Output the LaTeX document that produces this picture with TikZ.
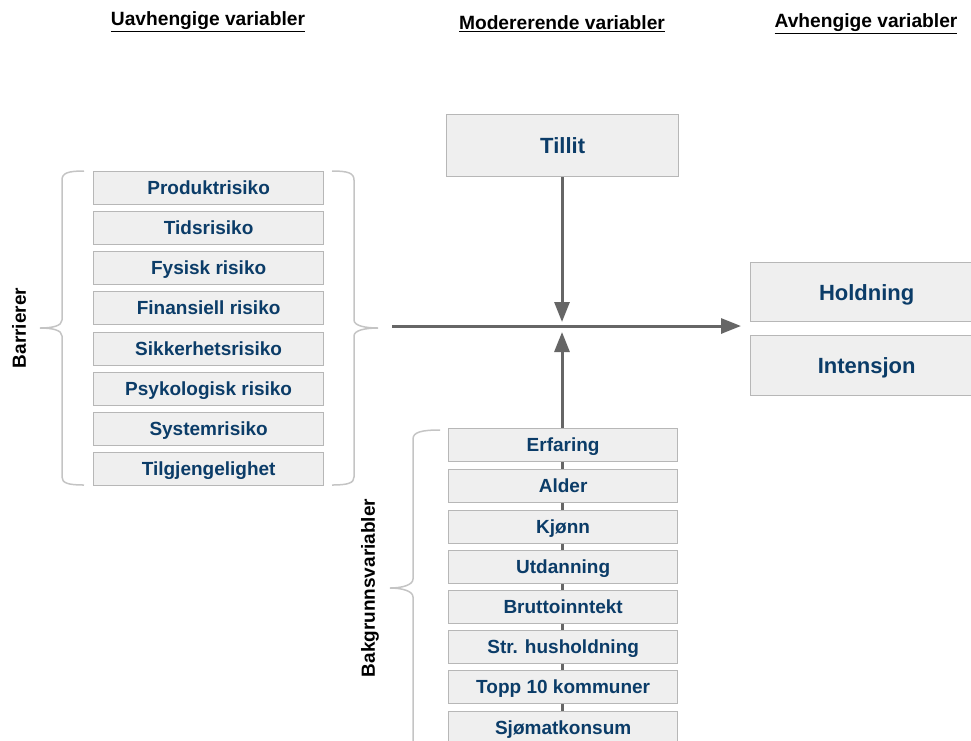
\documentclass[tikz,border=0pt]{standalone}
\usepackage{fontspec}
\setmainfont{Liberation Sans}
\usetikzlibrary{arrows.meta}
\definecolor{boxfill}{HTML}{EFEFEF}
\definecolor{boxline}{HTML}{B7B7B7}
\definecolor{txtblue}{HTML}{0B3C68}
\definecolor{arrowgray}{HTML}{666666}
\definecolor{bracegray}{HTML}{C4C4C4}
\tikzset{
  varbox/.style={draw=boxline, line width=1.3pt, fill=boxfill, minimum width=230pt, minimum height=33pt, inner sep=0pt, text=txtblue, font=\fontsize{19}{21}\selectfont\bfseries, text height=13.6pt, text depth=0pt, anchor=north west},
  bigbox/.style={varbox, font=\fontsize{22}{24}\selectfont\bfseries, text height=15.8pt},
  header/.style={font=\fontsize{19.2}{21}\selectfont\bfseries, inner sep=0pt},
  sidelabel/.style={font=\fontsize{19}{21}\selectfont\bfseries, rotate=90, inner sep=0pt},
  flow/.style={draw=arrowgray, line width=3pt, -{Triangle[length=20pt,width=15pt]}},
  bracestyle/.style={draw=bracegray, line width=1.5pt}
}
\newcommand{\ulh}[1]{\underline{#1}}
\begin{document}
\begin{tikzpicture}[x=1pt,y=-1pt]
\useasboundingbox (0,0) rectangle (971,740);
% headers
\node[header] (h1) at (208,22) {\ulh{Uavhengige variabler}};
\node[header] (h2) at (562,24) {\ulh{Modererende variabler}};
\node[header] (h3) at (866,24) {\ulh{Avhengige variabler}};

% vertical arrow from bottom (behind boxes)
\coordinate (bstart) at (562,745);
\coordinate (bend) at (562,332);
\draw[flow] (bstart) -- (bend);

% left boxes
\node[varbox] (b1) at (93,171) {Produktrisiko};
\node[varbox] (b2) at (93,211) {Tidsrisiko};
\node[varbox] (b3) at (93,251) {Fysisk risiko};
\node[varbox] (b4) at (93,291) {Finansiell risiko};
\node[varbox] (b5) at (93,332) {Sikkerhetsrisiko};
\node[varbox] (b6) at (93,372) {Psykologisk risiko};
\node[varbox] (b7) at (93,412) {Systemrisiko};
\node[varbox] (b8) at (93,452) {Tilgjengelighet};

% bottom boxes
\node[varbox,minimum width=229pt] (c1) at (448,428) {Erfaring};
\node[varbox,minimum width=229pt] (c2) at (448,469) {Alder};
\node[varbox,minimum width=229pt] (c3) at (448,510) {Kjønn};
\node[varbox,minimum width=229pt] (c4) at (448,550) {Utdanning};
\node[varbox,minimum width=229pt] (c5) at (448,590) {Bruttoinntekt};
\node[varbox,minimum width=229pt] (c6) at (448,630) {Str. husholdning};
\node[varbox,minimum width=229pt] (c7) at (448,670) {Topp 10 kommuner};
\node[varbox,minimum width=229pt] (c8) at (448,711) {Sjømatkonsum};

% moderator
\node[bigbox, minimum width=232pt, minimum height=62pt] (tillit) at (446,114) {Tillit};
% dependent
\node[bigbox, minimum width=232pt, minimum height=59pt] (hold) at (750,262) {Holdning};
\node[bigbox, minimum width=232pt, minimum height=60pt] (int) at (750,335) {Intensjon};

% arrows
\coordinate (tend) at (562,322);
\draw[flow] (tillit.south -| tend) -- (tend);
\coordinate (hstart) at (392,326);
\coordinate (hend) at (741,326);
\draw[flow] (hstart) -- (hend);

% braces
\draw[bracestyle] (84,171) .. controls (68,171) and (62,173) .. (62,180) -- (62,320)
  .. controls (62,326) and (52,328) .. (40,328) .. controls (52,328) and (62,330) .. (62,336)
  -- (62,477) .. controls (62,483) and (68,485) .. (84,485);
\draw[bracestyle] (332,171) .. controls (348,171) and (354,173) .. (354,180) -- (354,320)
  .. controls (354,326) and (366,328) .. (378,328) .. controls (366,328) and (354,330) .. (354,336)
  -- (354,477) .. controls (354,483) and (348,485) .. (332,485);
\draw[bracestyle] (440,430) .. controls (422,430) and (413,432) .. (413,439) -- (413,579)
  .. controls (413,585) and (402,588) .. (390,588) .. controls (402,588) and (413,591) .. (413,597)
  -- (413,745);

% side labels
\node[sidelabel] (barr) at (19,328) {Barrierer};
\node[sidelabel] (bakg) at (370,588) {Bakgrunnsvariabler};
\end{tikzpicture}
\end{document}
